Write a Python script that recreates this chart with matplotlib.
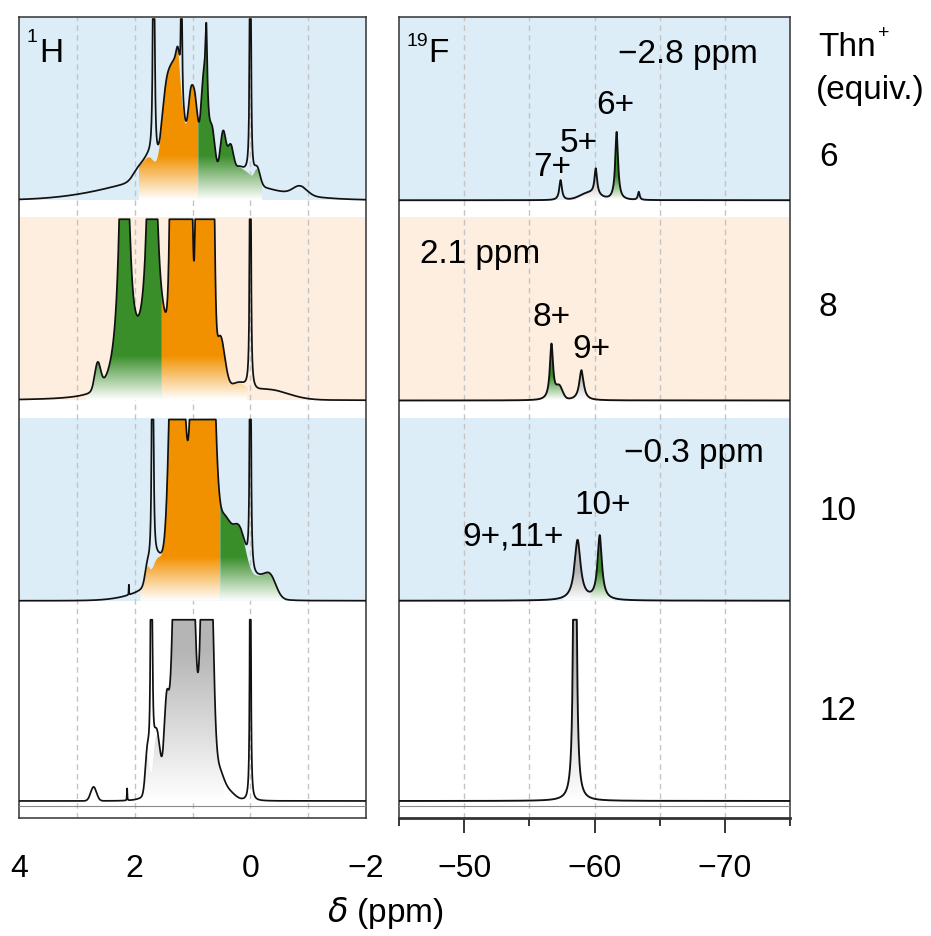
import numpy as np
import matplotlib
matplotlib.use("Agg")
import matplotlib.pyplot as plt
from matplotlib.patches import Polygon
from matplotlib.colors import to_rgb

plt.rcParams['font.family'] = ['Liberation Sans', 'DejaVu Sans']
plt.rcParams['axes.unicode_minus'] = True

W, H = 931, 936

BLUE = '#dcedf7'
PEACH = '#fdeee0'
ORANGE = '#f29100'
GREEN = '#3a8e2a'
GRAY = '#b5b5b5'

# Thn+ equivalents, top to bottom, and the shading behind each trace
EQUIV = [6, 8, 10, 12]
BAND_COLORS = [BLUE, PEACH, BLUE, 'white']

# ---- 1H spectra: components (shape, centre / ppm, height, width) ----
# narrow lines drawn in the trace but not in the shaded envelopes
H6_LINES = [('L', 1.67, 3.0, 0.010), ('L', 1.19, 1.2, 0.008), ('L', 0.00, 3.0, 0.008)]
H6_BROAD = [('G', 1.10, 0.13, 1.10), ('G', 1.30, 0.55, 0.13), ('G', 1.47, 0.20, 0.07),
            ('G', 1.25, 0.10, 0.03), ('G', 1.03, 0.30, 0.045), ('G', 0.95, 0.30, 0.045),
            ('L', 0.76, 0.36, 0.018), ('G', 0.80, 0.48, 0.055), ('G', 0.66, 0.22, 0.05),
            ('G', 0.47, 0.23, 0.05), ('G', 0.34, 0.16, 0.05), ('G', 0.20, 0.06, 0.07),
            ('G', -0.12, 0.08, 0.05), ('G', -0.86, 0.045, 0.12), ('G', 1.92, 0.06, 0.10),
            ('G', 1.74, 0.09, 0.09), ('G', 0.05, 0.05, 0.08)]
H6_FILLS = [(1.93, 0.90, ORANGE), (0.90, -0.20, GREEN)]

H8_LINES = [('L', 0.00, 3.0, 0.008)]
H8_BROAD = [('L', 2.18, 2.2, 0.07), ('L', 1.70, 2.2, 0.065), ('G', 1.40, 0.25, 0.40),
            ('G', 2.64, 0.13, 0.05), ('G', 1.30, 4.0, 0.05), ('G', 1.10, 5.0, 0.05),
            ('G', 0.86, 5.0, 0.045), ('G', 0.70, 4.0, 0.045), ('G', 0.97, 0.12, 0.05),
            ('G', 0.52, 0.28, 0.08), ('G', 0.22, 0.06, 0.14), ('G', -0.30, 0.05, 0.35)]
H8_FILLS = [(2.85, 1.53, GREEN), (1.53, 0.05, ORANGE)]

H10_LINES = [('L', 1.69, 3.0, 0.010), ('L', 2.10, 0.05, 0.003), ('L', 0.00, 3.0, 0.008)]
H10_BROAD = [('G', 1.00, 0.15, 0.60), ('G', 1.27, 2.5, 0.09), ('G', 0.82, 4.0, 0.12),
             ('G', 0.45, 0.25, 0.10), ('G', 0.20, 0.30, 0.13), ('G', -0.15, 0.08, 0.12),
             ('G', -0.35, 0.10, 0.10), ('G', 1.60, 0.12, 0.10), ('G', 1.78, 0.08, 0.04)]
H10_FILLS = [(1.90, 0.52, ORANGE), (0.52, -0.60, GREEN)]

H12_LINES = [('L', 1.71, 3.0, 0.010), ('L', 2.13, 0.06, 0.004), ('L', 0.00, 3.0, 0.007)]
H12_BROAD = [('G', 1.15, 4.0, 0.11), ('G', 0.75, 2.7, 0.07), ('G', 0.55, 0.12, 0.08),
             ('G', 1.45, 0.35, 0.04), ('G', 1.62, 0.28, 0.06), ('G', 1.78, 0.20, 0.035),
             ('G', 1.20, 0.12, 0.30), ('G', 0.40, 0.05, 0.12), ('G', 2.71, 0.07, 0.05)]
H12_FILLS = [(1.85, 0.45, GRAY)]

# ---- 19F spectra ----
F6_PEAKS = [('L', -57.4, 0.10, 0.12), ('L', -60.1, 0.13, 0.12), ('G', -59.6, 0.035, 0.7),
            ('L', -61.7, 0.34, 0.13), ('L', -63.4, 0.04, 0.08)]
F6_FILLS = [(-58.6, -61.1, GRAY), (-61.1, -62.6, GREEN)]

F8_PEAKS = [('L', -56.7, 0.28, 0.15), ('G', -57.3, 0.06, 0.25), ('L', -59.0, 0.15, 0.20)]
F8_FILLS = [(-55.8, -58.0, GREEN), (-58.0, -59.9, GRAY)]

F10_PEAKS = [('L', -58.7, 0.30, 0.28), ('L', -60.4, 0.32, 0.20)]
F10_FILLS = [(-57.6, -59.7, GRAY), (-59.7, -61.5, GREEN)]

F12_PEAKS = [('L', -58.5, 5.0, 0.07)]
F12_FILLS = [(-57.5, -59.5, GRAY)]

H_TRACES = [(H6_BROAD, H6_LINES, H6_FILLS), (H8_BROAD, H8_LINES, H8_FILLS),
            (H10_BROAD, H10_LINES, H10_FILLS), (H12_BROAD, H12_LINES, H12_FILLS)]
F_TRACES = [(F6_PEAKS, [], F6_FILLS), (F8_PEAKS, [], F8_FILLS),
            (F10_PEAKS, [], F10_FILLS), (F12_PEAKS, [], F12_FILLS)]

BASE_OFF = 0.085   # baseline position inside each strip
CAP = 0.99         # traces are cut off at the top of their strip


def spectrum(x, comps):
    y = np.zeros_like(x)
    for shape, c, h, w in comps:
        if shape == 'L':
            y += h / (1.0 + ((x - c) / w) ** 2)
        else:
            y += h * np.exp(-0.5 * ((x - c) / w) ** 2)
    return y


def gradient_fill(ax, x, top, base, color, fade):
    verts = np.vstack([np.column_stack([x, top]),
                       np.column_stack([x[::-1], np.full_like(x, base)])])
    patch = Polygon(verts, closed=True, facecolor='none', edgecolor='none')
    ax.add_patch(patch)
    ymax = top.max()
    n = 256
    t = np.clip(np.linspace(0, (ymax - base) / fade, n), 0, 1)[:, None, None]
    rgb = np.array(to_rgb(color))[None, None, :]
    img = 1.0 - t * (1.0 - rgb)
    im = ax.imshow(img, extent=(x.min(), x.max(), base, ymax), origin='lower',
                   aspect='auto', interpolation='bilinear', zorder=2)
    im.set_clip_path(patch)


def draw_panel(ax, x, traces, fades, lw):
    for i, ((broad, lines, fills), band, fade) in enumerate(zip(traces, BAND_COLORS, fades)):
        k = 3 - i
        base = k + BASE_OFF
        cap = (min(k + CAP, 3.995)) - base
        if band != 'white':
            ax.axhspan(base, k + 1.0, color=band, lw=0, zorder=0)
        env = spectrum(x, broad)
        total = env + spectrum(x, lines)
        for hi, lo, color in fills:
            a, b = min(hi, lo), max(hi, lo)
            m = (x >= a) & (x <= b)
            gradient_fill(ax, x[m], base + np.minimum(env[m], cap), base, color, fade)
        ax.plot(x, base + np.minimum(total, cap), color='#111111', lw=lw, zorder=4)
    ax.axhline(0.06, color='#8a8a8a', lw=0.8, zorder=3)


fig = plt.figure(figsize=(W / 100, H / 100), dpi=100)
axH = fig.add_axes([19 / W, (H - 818) / H, 347 / W, 801 / H])
axF = fig.add_axes([399 / W, (H - 818) / H, 391 / W, 801 / H])

xh = np.linspace(-2, 4, 8000)
xf = np.linspace(-75, -45, 6000)

for gx in [3, 2, 1, 0, -1]:
    axH.axvline(gx, color='#c4c4c4', lw=1.0, ls=(0, (4, 3)), zorder=1)
for gx in [-50, -55, -60, -65, -70]:
    axF.axvline(gx, color='#c4c4c4', lw=1.0, ls=(0, (4, 3)), zorder=1)

draw_panel(axH, xh, H_TRACES, [0.22, 0.22, 0.22, 0.75], 1.25)
draw_panel(axF, xf, F_TRACES, [0.12, 0.12, 0.15, 0.75], 1.35)

axH.set_xlim(4, -2)
axF.set_xlim(-45, -75)
for ax in (axH, axF):
    ax.set_ylim(0, 4)
    ax.set_yticks([])
    for s in ax.spines.values():
        s.set_linewidth(1.1)
        s.set_color('#333333')

axH.set_xticks([4, 2, 0, -2])
axH.tick_params(axis='x', length=0, pad=26, labelsize=23)
axF.set_xticks([-50, -60, -70])
axF.set_xticks([-45, -55, -65, -75], minor=True)
axF.tick_params(axis='x', which='major', length=11, width=1.1, pad=15, labelsize=23)
axF.tick_params(axis='x', which='minor', length=6, width=1.1)
axF.spines['bottom'].set_linewidth(2.0)


def ftext(xp, yp, s, **kw):
    kw.setdefault('fontsize', 24)
    kw.setdefault('va', 'center')
    fig.text(xp / W, 1 - yp / H, s, **kw)


# nucleus labels
ftext(37, 38, '1', fontsize=14, ha='right')
ftext(39, 53, 'H', ha='left')
ftext(428, 41, '19', fontsize=14, ha='right')
ftext(428, 53, 'F', ha='left')

# 19F annotations
ftext(688, 55, '\u22122.8 ppm', ha='center')
ftext(615, 106, '6+', ha='center')
ftext(579, 143, '5+', ha='center')
ftext(552, 167, '7+', ha='center')
ftext(480, 255, '2.1 ppm', ha='center')
ftext(552, 318, '8+', ha='center')
ftext(591, 350, '9+', ha='center')
ftext(694, 453, '\u22120.3 ppm', ha='center')
ftext(603, 505, '10+', ha='center')
ftext(513, 537, '9+,11+', ha='center')

# equivalents column
ftext(818, 47, 'Thn', ha='left')
ftext(878, 33, '+', fontsize=14, ha='left')
ftext(816, 90, '(equiv.)', ha='left')
for eq, yp in zip(EQUIV, [157, 308, 512, 712]):
    ftext(819, yp, str(eq), ha='left')

ftext(385, 913, r'$\delta$ (ppm)', ha='center')

fig.savefig('out.png', dpi=100)
